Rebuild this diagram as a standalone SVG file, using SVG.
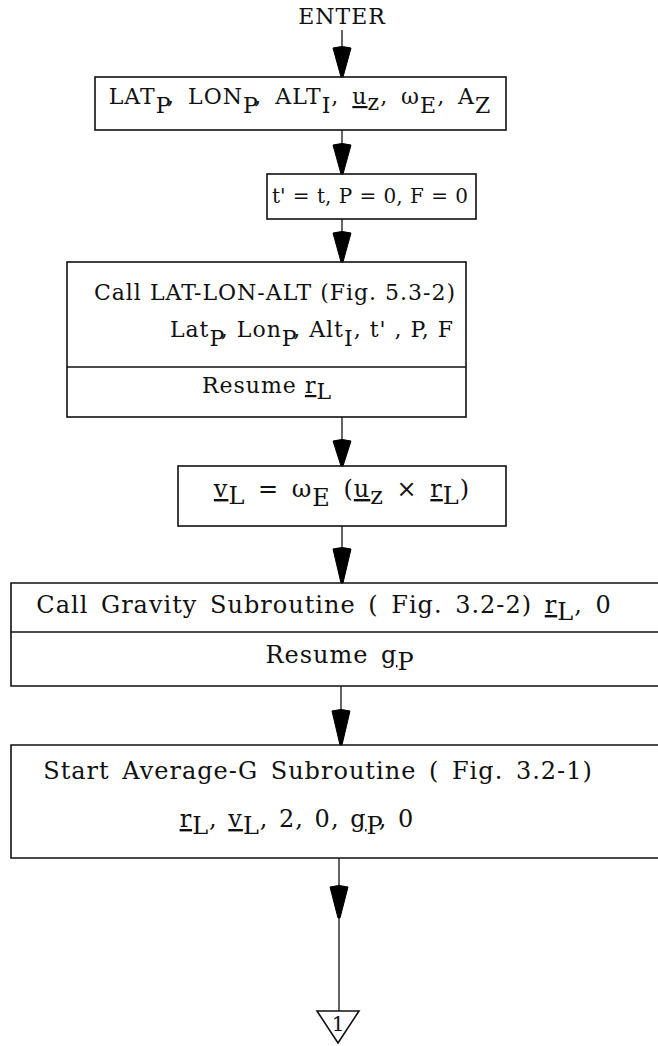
<svg xmlns="http://www.w3.org/2000/svg" width="658" height="1046" viewBox="0 0 658 1046">
<style>
text{font-family:"DejaVu Serif","Liberation Serif",serif;font-size:22px;letter-spacing:1px;fill:#111}
.big{font-size:24px}
.sm{font-size:20px;letter-spacing:0}
.one{font-size:20px;letter-spacing:0}
.box{fill:none;stroke:#111;stroke-width:1.6}
.ln{stroke:#111;stroke-width:1.3;fill:none}
.head{fill:#000;stroke:#000;stroke-width:1;stroke-linejoin:round}
.u{text-decoration:underline;text-decoration-skip-ink:none}
</style>
<rect width="658" height="1046" fill="#fff"/>
<g id="connectors">
<line class="ln" x1="342" y1="30" x2="342" y2="50"/>
<path class="head" d="M333,48 Q342,45 351,48 L343,77 L341,77 Z"/>
<line class="ln" x1="342" y1="130" x2="342" y2="146"/>
<path class="head" d="M333,145 Q342,142 351,145 L343,174 L341,174 Z"/>
<line class="ln" x1="342" y1="219" x2="342" y2="234"/>
<path class="head" d="M333,233 Q342,230 351,233 L343,262 L341,262 Z"/>
<line class="ln" x1="342" y1="417" x2="342" y2="442"/>
<path class="head" d="M333,441 Q342,438 351,441 L343,466 L341,466 Z"/>
<line class="ln" x1="342" y1="526" x2="342" y2="550"/>
<path class="head" d="M333,549 Q342,546 351,549 L343,583 L341,583 Z"/>
<line class="ln" x1="341" y1="686" x2="341" y2="712"/>
<path class="head" d="M332,711 Q341,708 350,711 L342,745 L340,745 Z"/>
<line class="ln" x1="339" y1="858" x2="339" y2="1011"/>
<path class="head" d="M330,887 Q339,884 348,887 L340,918 L338,918 Z"/>
</g>
<g id="enter"><text x="342" y="24" text-anchor="middle">ENTER</text></g>
<g id="n1">
<rect class="box" x="95" y="77" width="411" height="53"/>
<text x="300" y="104" text-anchor="middle" word-spacing="5">LAT<tspan dy="9">P</tspan><tspan dy="-9">, LON</tspan><tspan dy="9">P</tspan><tspan dy="-9">, ALT</tspan><tspan dy="9">I</tspan><tspan dy="-9">, </tspan><tspan class="u">u</tspan><tspan dy="6">z</tspan><tspan dy="-6">, ω</tspan><tspan dy="9">E</tspan><tspan dy="-9">, A</tspan><tspan dy="9">Z</tspan></text>
</g>
<g id="n2">
<rect class="box" x="267" y="174" width="209" height="45"/>
<text class="sm" x="370" y="203" text-anchor="middle" word-spacing="1">t' = t, P = 0, F = 0</text>
</g>
<g id="n3">
<rect class="box" x="67" y="262" width="399" height="155"/>
<line class="box" x1="67" y1="367" x2="466" y2="367"/>
<text x="275" y="300" text-anchor="middle">Call LAT-LON-ALT (Fig. 5.3-2)</text>
<text x="312" y="337" text-anchor="middle">Lat<tspan dy="9">P</tspan><tspan dy="-9">, Lon</tspan><tspan dy="9">P</tspan><tspan dy="-9">, Alt</tspan><tspan dy="9">I</tspan><tspan dy="-9">, t' , P, F</tspan></text>
<text x="267" y="393" text-anchor="middle">Resume <tspan class="u">r</tspan><tspan dy="6">L</tspan></text>
</g>
<g id="n4">
<rect class="box" x="178" y="466" width="328" height="60"/>
<text class="big" x="342" y="497" text-anchor="middle" word-spacing="4"><tspan class="u">v</tspan><tspan dy="7">L</tspan><tspan dy="-7"> = ω</tspan><tspan dy="9">E</tspan><tspan dy="-9"> (</tspan><tspan class="u">u</tspan><tspan dy="7">z</tspan><tspan dy="-7"> × </tspan><tspan class="u">r</tspan><tspan dy="7">L</tspan><tspan dy="-7">)</tspan></text>
</g>
<g id="n5">
<polyline class="box" points="658,583 11,583 11,686 658,686"/>
<line class="box" x1="11" y1="632" x2="658" y2="632"/>
<text class="big" x="324" y="613" text-anchor="middle" word-spacing="4">Call Gravity Subroutine ( Fig. 3.2-2) <tspan class="u">r</tspan><tspan dy="7">L</tspan><tspan dy="-7">, 0</tspan></text>
<text class="big" x="340" y="663" text-anchor="middle" word-spacing="4">Resume <tspan class="u">g</tspan><tspan dy="7">P</tspan></text>
</g>
<g id="n6">
<polyline class="box" points="658,745 11,745 11,858 658,858"/>
<text class="big" x="318" y="779" text-anchor="middle" word-spacing="4">Start Average-G Subroutine ( Fig. 3.2-1)</text>
<text class="big" x="297" y="827" text-anchor="middle" word-spacing="2"><tspan class="u">r</tspan><tspan dy="7">L</tspan><tspan dy="-7">, </tspan><tspan class="u">v</tspan><tspan dy="7">L</tspan><tspan dy="-7">, 2, 0, </tspan><tspan class="u">g</tspan><tspan dy="7">P</tspan><tspan dy="-7">, 0</tspan></text>
</g>
<g id="off1">
<path class="box" d="M317,1011 L359,1011 L338,1043 Z"/>
<text class="one" x="338" y="1031" text-anchor="middle">1</text>
</g>
</svg>
